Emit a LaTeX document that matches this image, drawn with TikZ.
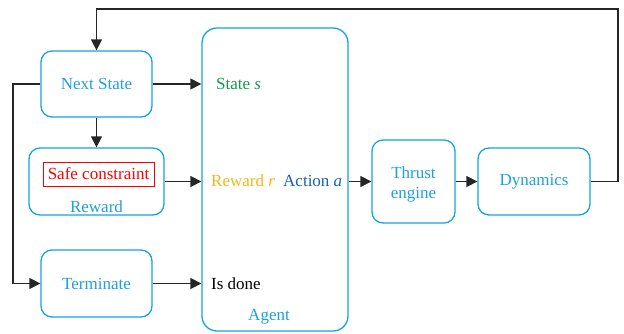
\documentclass[tikz,border=0pt]{standalone}
\usepackage{fontspec}
\setmainfont{Liberation Serif}
\usetikzlibrary{arrows.meta}
\definecolor{boxc}{RGB}{20,165,225}
\definecolor{txtc}{RGB}{30,160,220}
\definecolor{stc}{RGB}{20,150,80}
\definecolor{rwc}{RGB}{250,180,20}
\definecolor{acc}{RGB}{20,100,175}
\begin{document}
\begin{tikzpicture}[x=1pt,y=-1pt,
  every node/.style={font=\rmfamily\fontsize{17}{20}\selectfont},
  blk/.style={draw=boxc, line width=1.3pt, rounded corners=11pt, text=txtc, align=center, inner sep=0pt},
  arr/.style={draw=black!85, line width=1.3pt, -{Triangle[length=11pt,width=11pt]}}]
\useasboundingbox (0,0) rectangle (624,333);
\node[blk, minimum width=111pt, minimum height=66pt] (next) at (96.5,84) {Next State};
\node[blk, minimum width=135pt, minimum height=67pt] (reward) at (96.5,181.5) {};
\node[draw=red, line width=0.9pt, text=red, minimum width=111pt, minimum height=24pt, inner sep=0pt] (safe) at (98.5,174) {Safe constraint};
\node[text=txtc] (rlab) at (96.5,207) {Reward};
\node[blk, minimum width=111pt, minimum height=67pt] (term) at (96.5,283.5) {Terminate};
\node[blk, rounded corners=15pt, minimum width=146pt, minimum height=303pt] (agent) at (275,179.5) {};
\node[text=stc, anchor=west, inner sep=0pt] (st) at (216,84) {State \textit{s}};
\node[text=rwc, anchor=west, inner sep=0pt] (rw) at (211,181) {Reward \textit{r}};
\node[text=acc, anchor=west, inner sep=0pt] (ac) at (283,181) {Action \textit{a}};
\node[text=black, anchor=west, inner sep=0pt] (done) at (211,284) {Is done};
\node[text=txtc] (alab) at (269,317) {Agent};
\node[blk, minimum width=83pt, minimum height=83pt] (thrust) at (413.5,181.5) {};
\node[text=txtc, align=center, inner sep=0pt] (thrustlbl) at (413.5,184) {Thrust\\engine};
\node[blk, minimum width=112pt, minimum height=67pt] (dyn) at (534,181.5) {Dynamics};
\coordinate (fbR) at (618,9);
\coordinate (lft) at (13,84);
\draw[arr] (next.east) -- (next.east -| agent.west);
\draw[arr] (next.south) -- (reward.north);
\draw[arr] (reward.east) -- (reward.east -| agent.west);
\draw[arr] (term.east) -- (term.east -| agent.west);
\draw[arr] (agent.east |- thrust.west) -- (thrust.west);
\draw[arr] (thrust.east) -- (dyn.west);
\draw[arr] (dyn.east) -| (fbR) -| (next.north);
\draw[arr] (next.west) -- (lft) |- (term.west);
\end{tikzpicture}
\end{document}
